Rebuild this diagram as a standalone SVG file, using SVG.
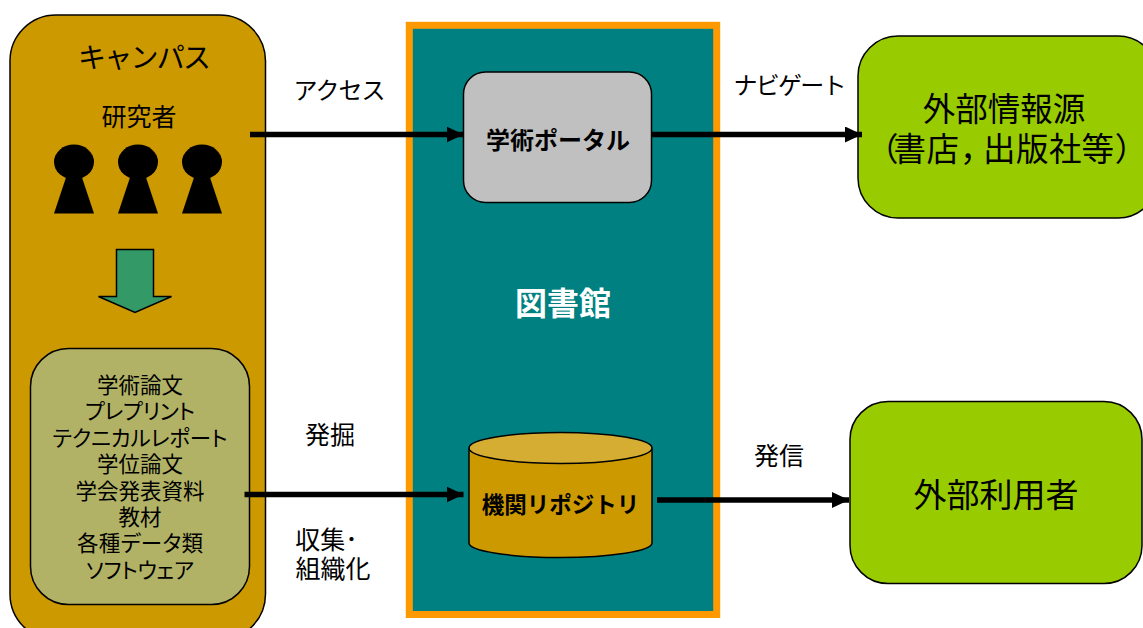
<svg xmlns="http://www.w3.org/2000/svg" width="1143" height="628" viewBox="0 0 1143 628">
<style>
text{font-family:"Noto Sans CJK JP","Liberation Sans",sans-serif;text-anchor:middle;fill:#000}
.s{stroke:#000;stroke-width:1.5}
.c{stroke:#000;stroke-width:5.500;fill:none}
.b{font-weight:700;font-size:24px}
.l{font-size:24px}
.k{font-size:25px}
.i{font-size:21.500px}
.j{font-size:21.500px;font-feature-settings:"palt"}
.o{font-size:32.500px}
</style>
<defs>
<marker id="a" markerUnits="userSpaceOnUse" markerWidth="18" markerHeight="18" refX="17" refY="8" orient="auto"><path d="M0 0L17 8L0 16Z" fill="#000"/></marker>
<g id="p"><ellipse cx="0" cy="17.500" rx="20" ry="17.500" fill="#000"/><path d="M-7 30L7 30L20 69L-20 69Z" fill="#000"/></g>
</defs>
<g id="campus">
<rect x="10" y="15" width="255.500" height="625" rx="46" fill="#cc9900" class="s"/>
<text x="144.500" y="68" font-size="28" textLength="133">キャンパス</text>
</g>
<g id="researchers">
<text x="139" y="126" class="k">研究者</text>
<use href="#p" x="74" y="144.500"/><use href="#p" x="138" y="144.500"/><use href="#p" x="202" y="144.500"/>
</g>
<g id="down-arrow"><path d="M116.500 249.500H153.500V296.500H171.500L135 312.500L98.500 296.500H116.500Z" fill="#339966" class="s"/></g>
<g id="materials">
<rect x="30.500" y="348.500" width="219" height="256" rx="38" fill="#b2b266" class="s"/>
<text x="140" y="393" class="i">学術論文</text>
<text x="140" y="419" class="j" textLength="110">プレプリント</text>
<text x="140" y="445.500" class="j" textLength="175">テクニカルレポート</text>
<text x="140" y="472" class="i">学位論文</text>
<text x="140" y="498.500" class="i">学会発表資料</text>
<text x="140" y="525" class="i">教材</text>
<text x="140" y="551" class="j" textLength="126">各種データ類</text>
<text x="140" y="577.500" class="j" textLength="108">ソフトウェア</text>
</g>
<g id="library">
<rect x="409.300" y="25.300" width="307.400" height="589.200" fill="#008080" stroke="#ff9900" stroke-width="7"/>
<text x="563" y="315" font-size="32" font-weight="700" style="fill:#fff">図書館</text>
</g>
<g id="portal">
<rect x="463.500" y="72" width="188" height="130.500" rx="22" fill="#c0c0c0" class="s"/>
<text x="558" y="149" class="b">学術ポータル</text>
</g>
<g id="repository">
<path d="M469 448.500V543C469 551 510 557.500 560.500 557.500S652 551 652 543V448.500" fill="#cc9900" class="s"/>
<ellipse cx="560.500" cy="448" rx="91.500" ry="15.500" fill="#d6ad33" class="s"/>
<text x="560.500" y="513" class="b" style="font-size:22.500px">機関リポジトリ</text>
</g>
<g id="external-source">
<rect x="858" y="36" width="300" height="182" rx="40" fill="#99cc00" class="s"/>
<text x="1004" y="121" class="o">外部情報源</text>
<text x="881 893.500 926.500 962 983 1016 1049 1081.500 1116" y="161" class="o" style="text-anchor:start;font-feature-settings:'palt'">（書店，出版社等）</text>
</g>
<g id="external-users">
<rect x="850" y="401.500" width="292" height="182" rx="38" fill="#99cc00" class="s"/>
<text x="996" y="507" font-size="33">外部利用者</text>
</g>
<g id="connectors">
<line x1="250" y1="134.500" x2="463.500" y2="134.500" class="c" marker-end="url(#a)"/>
<line x1="651.500" y1="134.500" x2="862" y2="134.500" class="c" marker-end="url(#a)"/>
<line x1="244.500" y1="494.500" x2="463.500" y2="494.500" class="c" marker-end="url(#a)"/>
<line x1="657" y1="500" x2="849" y2="500" class="c" marker-end="url(#a)"/>
</g>
<g id="labels">
<text x="339.500" y="99" class="l" textLength="92">アクセス</text>
<text x="790" y="94" class="l" textLength="113">ナビゲート</text>
<text x="330" y="444" class="k">発掘</text>
<text x="779" y="465" class="k">発信</text>
<text x="326.500" y="549" class="k">収集･</text>
<text x="333" y="578" class="k">組織化</text>
</g>
</svg>
